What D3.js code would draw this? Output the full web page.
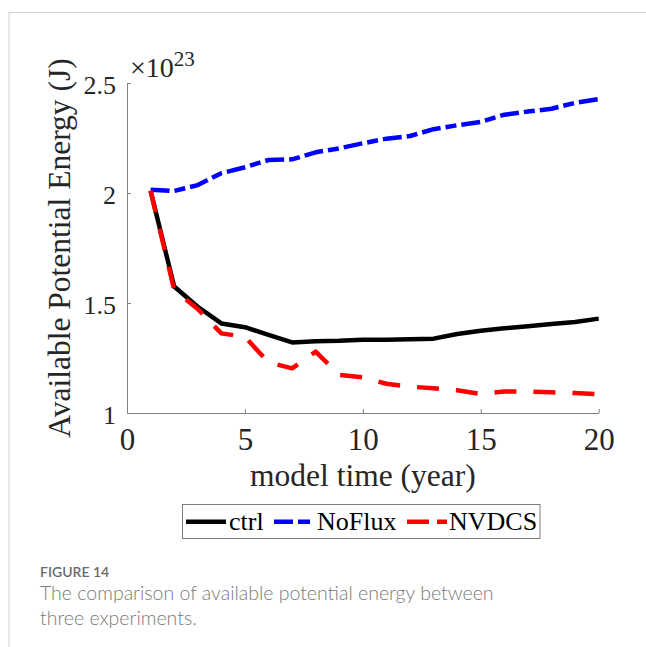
<!DOCTYPE html>
<html>
<head>
<meta charset="utf-8">
<script src="https://cdn.jsdelivr.net/npm/d3@7"></script>
<style>
  html, body { margin: 0; padding: 0; background: #fff; }
  svg { display: block; }
</style>
</head>
<body>
<script>
// Available potential energy (x 10^23 J) per model year for three experiments
const years  = d3.range(1, 21);
const ctrl   = [2.010, 1.575, 1.483, 1.407, 1.390, 1.355, 1.321, 1.326, 1.328, 1.333,
                1.333, 1.335, 1.338, 1.359, 1.374, 1.385, 1.394, 1.405, 1.414, 1.429];
const noFlux = [2.015, 2.009, 2.036, 2.090, 2.117, 2.150, 2.153, 2.185, 2.203, 2.226,
                2.247, 2.259, 2.290, 2.308, 2.323, 2.356, 2.370, 2.383, 2.410, 2.427];
const nvdcs  = [2.010, 1.560, 1.473, 1.362, 1.346, 1.230, 1.203, 1.279, 1.173, 1.162,
                1.133, 1.120, 1.112, 1.103, 1.086, 1.098, 1.097, 1.094, 1.091, 1.086];

const seriesNames = ["ctrl", "NoFlux", "NVDCS"];
const xTicks = [0, 5, 10, 15, 20];
const yTicks = [1, 1.5, 2, 2.5];
const xTitle = "model time (year)";
const yTitle = "Available Potential Energy (J)";
const figureLabel = "FIGURE 14";
const captionLines = ["The comparison of available potential energy between", "three experiments."];

const W = 646, H = 647;
const serif = "'Liberation Serif', 'Times New Roman', serif";
const sans = "Lato, 'Open Sans', sans-serif";

const svg = d3.select("body").append("svg")
  .attr("width", W).attr("height", H);

// page frame
svg.append("path")
  .attr("d", `M9,${H} V12.5 H${W}`)
  .attr("fill", "none").attr("stroke", "#cfcfcf").attr("stroke-width", 1);

const x = d3.scaleLinear().domain([0, 20]).range([127, 598.7]);
const y = d3.scaleLinear().domain([1, 2.5]).range([413, 83]);

// axes (inward ticks, no box)
const gx = svg.append("g")
  .attr("transform", `translate(0,${y(1)})`)
  .call(d3.axisBottom(x).tickValues(xTicks).tickFormat(d3.format("d"))
        .tickSizeInner(-4).tickSizeOuter(0).tickPadding(15));
const gy = svg.append("g")
  .attr("transform", `translate(${x(0)},0)`)
  .call(d3.axisLeft(y).tickValues(yTicks).tickFormat(d => String(d))
        .tickSizeInner(-4).tickSizeOuter(0).tickPadding(11));

[gx, gy].forEach(g => {
  g.select(".domain").attr("stroke", "#808080").attr("stroke-width", 1);
  g.selectAll(".tick line").attr("stroke", "#808080").attr("stroke-width", 1);
  g.selectAll(".tick text").attr("fill", "#262626").attr("font-family", serif);
});
gx.selectAll(".tick text").attr("font-size", 31);
gy.selectAll(".tick text").attr("font-size", 26).attr("dy", "0.42em");

// exponent label
const expo = svg.append("text")
  .attr("x", 130).attr("y", 77)
  .attr("font-family", serif).attr("fill", "#262626").attr("font-size", 28);
expo.append("tspan").text("\u00D710");
expo.append("tspan").attr("font-size", 21).attr("dy", -11).text("23");

// axis titles
svg.append("text")
  .attr("x", (x(0) + x(20)) / 2).attr("y", 486)
  .attr("text-anchor", "middle")
  .attr("font-family", serif).attr("font-size", 31.5).attr("fill", "#262626")
  .text(xTitle);
svg.append("text")
  .attr("transform", `translate(70,${(y(1) + y(2.5)) / 2}) rotate(-90)`)
  .attr("text-anchor", "middle")
  .attr("font-family", serif).attr("font-size", 31.5).attr("fill", "#262626")
  .text(yTitle);

// series
const styles = {
  ctrl:   { color: "#000000", dash: null,          legendDash: null },
  NoFlux: { color: "#0000ff", dash: "19,5,11,5",   legendDash: "19,5,12,5" },
  NVDCS:  { color: "#ff0000", dash: "22,17",       legendDash: "22,8" }
};
const data = { ctrl: ctrl, NoFlux: noFlux, NVDCS: nvdcs };

const line = d3.line()
  .x((d, i) => x(years[i]))
  .y(d => y(d));

seriesNames.forEach(name => {
  svg.append("path")
    .datum(data[name])
    .attr("d", line)
    .attr("fill", "none")
    .attr("stroke", styles[name].color)
    .attr("stroke-width", 4.5)
    .attr("stroke-linejoin", "round")
    .attr("stroke-dasharray", styles[name].dash);
});

// legend
const lg = svg.append("g");
lg.append("rect")
  .attr("x", 182.5).attr("y", 504.5).attr("width", 357.5).attr("height", 34)
  .attr("fill", "#fff").attr("stroke", "#7a7a7a").attr("stroke-width", 1);
const legendItems = [
  { name: "ctrl",   x0: 186, x1: 226, tx: 229 },
  { name: "NoFlux", x0: 274, x1: 314, tx: 317 },
  { name: "NVDCS",  x0: 407, x1: 447, tx: 449 }
];
legendItems.forEach(it => {
  lg.append("line")
    .attr("x1", it.x0).attr("x2", it.x1).attr("y1", 521.7).attr("y2", 521.7)
    .attr("stroke", styles[it.name].color).attr("stroke-width", 4.5)
    .attr("stroke-dasharray", styles[it.name].legendDash);
  lg.append("text")
    .attr("x", it.tx).attr("y", 530)
    .attr("font-family", serif).attr("font-size", 26).attr("fill", "#000")
    .text(it.name);
});

// caption
svg.append("text")
  .attr("x", 40).attr("y", 577)
  .attr("font-family", sans).attr("font-size", 14)
  .attr("font-weight", 600).attr("fill", "#6a6a6a")
  .text(figureLabel);
captionLines.forEach((t, i) => {
  svg.append("text")
    .attr("x", 40).attr("y", 600 + i * 25)
    .attr("font-family", sans).attr("font-size", 19.5)
    .attr("font-weight", 300).attr("fill", "#7a7a7a")
    .text(t);
});
</script>
</body>
</html>
